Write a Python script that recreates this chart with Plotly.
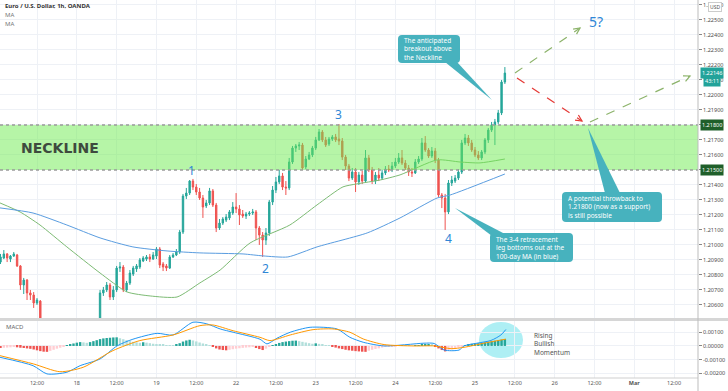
import math
import plotly.graph_objects as go

# ---------------- DATA ----------------
bar_index = list(range(1, 154))  # hourly bars, 0 = Feb 17 00:00 (weekend gap removed)

opens = [1.20886, 1.20913, 1.20940, 1.20906, 1.20926, 1.20933, 1.20860, 1.20733, 1.20766, 1.20680,
         1.20666, 1.20613, 1.20626, 1.20486, 1.20420, 1.20333, 1.20366, 1.20313, 1.20340, 1.20380,
         1.20353, 1.20393, 1.20373, 1.20406, 1.20386, 1.20413, 1.20393, 1.20426, 1.20406, 1.20433,
         1.20460, 1.20680, 1.20700, 1.20733, 1.20653, 1.20700, 1.20846, 1.20853, 1.20700, 1.20746,
         1.20806, 1.20840, 1.20853, 1.20893, 1.20906, 1.20920, 1.20906, 1.20926, 1.20973, 1.20873,
         1.20860, 1.20846, 1.20920, 1.20933, 1.20953, 1.21086, 1.21326, 1.21346, 1.21426, 1.21386,
         1.21353, 1.21313, 1.21260, 1.21280, 1.21360, 1.21266, 1.21113, 1.21146, 1.21166, 1.21180,
         1.21213, 1.21253, 1.21240, 1.21206, 1.21193, 1.21206, 1.21213, 1.21220, 1.21113, 1.21066,
         1.21033, 1.21080, 1.21286, 1.21366, 1.21420, 1.21460, 1.21386, 1.21380, 1.21553, 1.21646,
         1.21660, 1.21666, 1.21520, 1.21573, 1.21600, 1.21646, 1.21700, 1.21753, 1.21700, 1.21673,
         1.21706, 1.21720, 1.21706, 1.21693, 1.21586, 1.21526, 1.21446, 1.21486, 1.21420, 1.21466,
         1.21426, 1.21580, 1.21500, 1.21426, 1.21466, 1.21446, 1.21480, 1.21506, 1.21500, 1.21526,
         1.21553, 1.21580, 1.21546, 1.21513, 1.21486, 1.21480, 1.21553, 1.21573, 1.21680, 1.21633,
         1.21593, 1.21626, 1.21566, 1.21333, 1.21313, 1.21220, 1.21413, 1.21426, 1.21446, 1.21486,
         1.21680, 1.21713, 1.21680, 1.21633, 1.21600, 1.21580, 1.21620, 1.21700, 1.21766, 1.21800,
         1.21820, 1.21880, 1.22086]

highs = [1.20940, 1.20966, 1.20946, 1.20933, 1.20953, 1.20940, 1.20866, 1.20780, 1.20773, 1.20700,
         1.20686, 1.20646, 1.20633, 1.20513, 1.20433, 1.20393, 1.20380, 1.20366, 1.20400, 1.20406,
         1.20413, 1.20420, 1.20433, 1.20426, 1.20440, 1.20433, 1.20453, 1.20446, 1.20460, 1.20500,
         1.20700, 1.20720, 1.20753, 1.20746, 1.20726, 1.20860, 1.20886, 1.20866, 1.20760, 1.20833,
         1.20860, 1.20873, 1.20913, 1.20926, 1.20933, 1.20940, 1.20953, 1.20986, 1.20986, 1.20886,
         1.20873, 1.20933, 1.20946, 1.20973, 1.21100, 1.21340, 1.21380, 1.21433, 1.21440, 1.21406,
         1.21380, 1.21333, 1.21300, 1.21380, 1.21373, 1.21280, 1.21173, 1.21186, 1.21206, 1.21233,
         1.21286, 1.21346, 1.21266, 1.21233, 1.21220, 1.21226, 1.21240, 1.21233, 1.21126, 1.21086,
         1.21113, 1.21300, 1.21393, 1.21453, 1.21500, 1.21480, 1.21426, 1.21580, 1.21660, 1.21673,
         1.21686, 1.21680, 1.21593, 1.21620, 1.21660, 1.21720, 1.21773, 1.21766, 1.21720, 1.21720,
         1.21733, 1.21740, 1.21806, 1.21713, 1.21600, 1.21540, 1.21513, 1.21513, 1.21486, 1.21493,
         1.21633, 1.21600, 1.21520, 1.21486, 1.21513, 1.21500, 1.21526, 1.21533, 1.21553, 1.21580,
         1.21613, 1.21633, 1.21566, 1.21533, 1.21513, 1.21573, 1.21593, 1.21713, 1.21726, 1.21646,
         1.21653, 1.21646, 1.21580, 1.21346, 1.21340, 1.21433, 1.21460, 1.21466, 1.21506, 1.21700,
         1.21740, 1.21733, 1.21700, 1.21653, 1.21626, 1.21633, 1.21713, 1.21780, 1.21820, 1.21840,
         1.21900, 1.22100, 1.22186]

lows = [1.20873, 1.20906, 1.20886, 1.20886, 1.20920, 1.20853, 1.20700, 1.20673, 1.20633, 1.20633,
        1.20580, 1.20600, 1.20433, 1.20380, 1.20286, 1.20260, 1.20266, 1.20286, 1.20313, 1.20326,
        1.20333, 1.20346, 1.20353, 1.20366, 1.20366, 1.20373, 1.20380, 1.20386, 1.20393, 1.20420,
        1.20433, 1.20660, 1.20686, 1.20633, 1.20633, 1.20686, 1.20820, 1.20686, 1.20686, 1.20733,
        1.20793, 1.20820, 1.20840, 1.20886, 1.20893, 1.20886, 1.20900, 1.20906, 1.20846, 1.20826,
        1.20826, 1.20840, 1.20913, 1.20926, 1.20940, 1.21073, 1.21306, 1.21333, 1.21366, 1.21333,
        1.21300, 1.21180, 1.21246, 1.21266, 1.21253, 1.21086, 1.21100, 1.21133, 1.21153, 1.21166,
        1.21200, 1.21213, 1.21133, 1.21180, 1.21173, 1.21193, 1.21200, 1.21033, 1.21000, 1.20920,
        1.21000, 1.21060, 1.21266, 1.21346, 1.21406, 1.21366, 1.21333, 1.21366, 1.21540, 1.21620,
        1.21633, 1.21500, 1.21506, 1.21566, 1.21586, 1.21633, 1.21693, 1.21686, 1.21653, 1.21660,
        1.21693, 1.21686, 1.21666, 1.21566, 1.21500, 1.21426, 1.21433, 1.21353, 1.21400, 1.21406,
        1.21413, 1.21486, 1.21406, 1.21406, 1.21426, 1.21433, 1.21466, 1.21486, 1.21486, 1.21513,
        1.21540, 1.21533, 1.21500, 1.21460, 1.21453, 1.21473, 1.21540, 1.21560, 1.21620, 1.21580,
        1.21580, 1.21546, 1.21320, 1.21246, 1.21100, 1.21206, 1.21393, 1.21413, 1.21433, 1.21473,
        1.21666, 1.21660, 1.21620, 1.21586, 1.21566, 1.21566, 1.21606, 1.21680, 1.21753, 1.21666,
        1.21806, 1.21866, 1.22073]

closes = [1.20920, 1.20940, 1.20913, 1.20926, 1.20940, 1.20860, 1.20733, 1.20766, 1.20680, 1.20666,
          1.20613, 1.20633, 1.20486, 1.20420, 1.20333, 1.20366, 1.20313, 1.20340, 1.20380, 1.20353,
          1.20393, 1.20373, 1.20406, 1.20386, 1.20413, 1.20393, 1.20426, 1.20406, 1.20433, 1.20460,
          1.20680, 1.20700, 1.20733, 1.20653, 1.20700, 1.20846, 1.20853, 1.20700, 1.20746, 1.20813,
          1.20846, 1.20860, 1.20900, 1.20913, 1.20920, 1.20906, 1.20933, 1.20973, 1.20866, 1.20853,
          1.20846, 1.20920, 1.20933, 1.20953, 1.21086, 1.21326, 1.21346, 1.21426, 1.21386, 1.21353,
          1.21313, 1.21253, 1.21280, 1.21360, 1.21266, 1.21113, 1.21146, 1.21173, 1.21186, 1.21220,
          1.21253, 1.21240, 1.21200, 1.21193, 1.21206, 1.21213, 1.21220, 1.21113, 1.21066, 1.21033,
          1.21080, 1.21286, 1.21366, 1.21420, 1.21460, 1.21386, 1.21380, 1.21553, 1.21646, 1.21660,
          1.21666, 1.21513, 1.21573, 1.21600, 1.21646, 1.21700, 1.21753, 1.21700, 1.21666, 1.21706,
          1.21720, 1.21700, 1.21693, 1.21586, 1.21526, 1.21446, 1.21486, 1.21420, 1.21466, 1.21426,
          1.21580, 1.21500, 1.21426, 1.21466, 1.21446, 1.21480, 1.21506, 1.21500, 1.21526, 1.21553,
          1.21580, 1.21546, 1.21513, 1.21486, 1.21480, 1.21553, 1.21573, 1.21680, 1.21633, 1.21593,
          1.21626, 1.21566, 1.21333, 1.21313, 1.21220, 1.21413, 1.21433, 1.21446, 1.21486, 1.21680,
          1.21713, 1.21680, 1.21633, 1.21600, 1.21580, 1.21620, 1.21700, 1.21766, 1.21800, 1.21820,
          1.21880, 1.22086, 1.22146]

# moving averages (vertices)
ma50_x = [0.85, 6.9, 12.9, 21.0, 31.0, 39.1, 46.1, 54.2, 61.1, 67.2, 76.2, 88.2, 96.4, 104.2,
          108.4, 115.4, 121.4, 132.6, 139.5, 145.5, 153.0]
ma50_y = [1.21280, 1.21220, 1.21133, 1.20987, 1.20813, 1.20687, 1.20660, 1.20653, 1.20747, 1.20833,
          1.21013, 1.21133, 1.21267, 1.21387, 1.21407, 1.21433, 1.21467, 1.21567, 1.21553, 1.21547,
          1.21573]
ma100_x = [0.85, 10.8, 21.0, 31.0, 40.9, 51.2, 61.1, 74.1, 80.1, 87.6, 96.4, 111.5, 121.4, 132.6,
           136.5, 153.0]
ma100_y = [1.21247, 1.21213, 1.21133, 1.21047, 1.20987, 1.20960, 1.20947, 1.20940, 1.20927, 1.20920,
           1.20987, 1.21080, 1.21180, 1.21313, 1.21333, 1.21473]

# MACD histogram, one value per bar
hist = [-0.00015, -0.00013, -0.00012, -0.00010, -0.00008, -0.00010, -0.00013, -0.00015, -0.00018, -0.00021,
        -0.00026, -0.00032, -0.00038, -0.00042, -0.00043, -0.00036, -0.00028, -0.00020, -0.00013, -0.00006,
        0.00003, 0.00010, 0.00018, 0.00024, 0.00028, 0.00026, 0.00023, 0.00028, 0.00035, 0.00042,
        0.00050, 0.00055, 0.00058, 0.00060, 0.00062, 0.00063, 0.00056, 0.00049, 0.00042, 0.00035,
        0.00030, 0.00026, 0.00023, 0.00027, 0.00024, 0.00020, 0.00016, 0.00013, 0.00010, 0.00007,
        0.00005, 0.00003, 0.00002, 0.00008, 0.00020, 0.00032, 0.00040, 0.00045, 0.00040, 0.00033,
        0.00025, 0.00018, 0.00012, 0.00006, -0.00008, -0.00018, -0.00026, -0.00030, -0.00032, -0.00028,
        -0.00024, -0.00020, -0.00017, -0.00014, -0.00012, -0.00010, -0.00008, -0.00015, -0.00023, -0.00030,
        -0.00020, -0.00008, 0.00005, 0.00014, 0.00022, 0.00028, 0.00032, 0.00035, 0.00038, 0.00039,
        0.00035, 0.00030, 0.00025, 0.00020, 0.00016, 0.00019, 0.00015, 0.00010, 0.00006, 0.00002,
        -0.00005, -0.00012, -0.00018, -0.00023, -0.00028, -0.00032, -0.00035, -0.00038, -0.00040, -0.00042,
        -0.00043, -0.00035, -0.00028, -0.00022, -0.00018, -0.00012, -0.00008, -0.00005, -0.00003, -0.00001,
        0.00002, 0.00003, 0.00002, 0.00001, 0.00000, 0.00002, 0.00005, 0.00008, 0.00010, 0.00011,
        0.00009, -0.00005, -0.00018, -0.00030, -0.00040, -0.00032, -0.00025, -0.00018, -0.00012, -0.00006,
        0.00005, 0.00012, 0.00016, 0.00019, 0.00020, 0.00022, 0.00026, 0.00030, 0.00034, 0.00038,
        0.00042, 0.00046, 0.00050]

macd_x = [0.85, 10.8, 15.0, 21.0, 25.0, 31.0, 36.1, 40.9, 48.2, 53.0, 59.0, 63.2, 67.2, 71.1, 79.2,
          81.3, 84.3, 88.3, 94.3, 102.4, 106.3, 110.3, 116.6, 128.6, 131.7, 134.7, 139.2, 140.7,
          144.6, 148.8, 151.8, 153.3]
macd_y = [-0.00083, -0.00144, -0.00204, -0.00192, -0.00144, -0.00095, 0.00000, 0.00049, 0.00092,
          0.00080, 0.00173, 0.00161, 0.00124, 0.00100, 0.00049, 0.00015, 0.00056, 0.00100, 0.00136,
          0.00124, 0.00063, 0.00027, 0.00000, 0.00020, 0.00018, -0.00030, -0.00030, 0.00000, 0.00020,
          0.00040, 0.00080, 0.00120]
sig_x = [0.85, 10.9, 18.9, 25.9, 34.9, 43.0, 53.0, 61.1, 65.0, 71.1, 79.2, 82.2, 88.3, 95.2, 101.2,
         106.3, 110.3, 116.6, 125.6, 131.7, 136.8, 140.7, 146.7, 153.3]
sig_y = [-0.00071, -0.00131, -0.00188, -0.00156, -0.00034, 0.00039, 0.00080, 0.00148, 0.00153,
         0.00111, 0.00063, 0.00039, 0.00080, 0.00119, 0.00124, 0.00100, 0.00051, 0.00010, 0.00000,
         0.00000, -0.00020, -0.00010, 0.00020, 0.00050]

time_tick_pos = [12, 24, 36, 48, 60, 72, 84, 96, 108, 120, 132, 144, 156, 168, 180, 192, 204]
time_tick_text = ["12:00", "18", "12:00", "19", "12:00", "22", "12:00", "23", "12:00", "24",
                  "12:00", "25", "12:00", "26", "12:00", "<b>Mar</b>", "12:00"]
price_ticks = [1.206, 1.207, 1.208, 1.209, 1.210, 1.211, 1.212, 1.213, 1.214, 1.215, 1.216, 1.217,
               1.218, 1.219, 1.220, 1.221, 1.222, 1.223, 1.224, 1.225, 1.226]
macd_ticks = [-0.002, -0.001, 0.0, 0.001]
macd_tick_text = ["-0.00200", "-0.00100", "0.00000", "0.00100"]

neckline_top = 1.21800
neckline_bottom = 1.21500
last_price = 1.22146

# ---------------- GEOMETRY HELPERS (decorations only) ----------------
PW, PH = 698.0, 378.0  # plot area size in px


def P(x, y):
    return x / PW, (PH - y) / PH


def path_from(points, close=True):
    s = ""
    for k, (x, y) in enumerate(points):
        px, py = P(x, y)
        s += ("M" if k == 0 else "L") + f"{px:.5f},{py:.5f} "
    return s + ("Z" if close else "")


def rounded_rect(x0, y0, x1, y1, r=4):
    def p(x, y):
        a, b = P(x, y)
        return f"{a:.5f},{b:.5f}"
    return (f"M{p(x0 + r, y0)} L{p(x1 - r, y0)} Q{p(x1, y0)} {p(x1, y0 + r)} "
            f"L{p(x1, y1 - r)} Q{p(x1, y1)} {p(x1 - r, y1)} L{p(x0 + r, y1)} "
            f"Q{p(x0, y1)} {p(x0, y1 - r)} L{p(x0, y0 + r)} Q{p(x0, y0)} {p(x0 + r, y0)} Z")


# ---------------- FIGURE ----------------
fig = go.Figure()

fig.add_trace(go.Candlestick(
    x=bar_index, open=opens, high=highs, low=lows, close=closes,
    increasing=dict(line=dict(color="#26a69a", width=1), fillcolor="#26a69a"),
    decreasing=dict(line=dict(color="#ef5350", width=1), fillcolor="#ef5350"),
    whiskerwidth=0, xaxis="x", yaxis="y", hoverinfo="skip", showlegend=False))

fig.add_trace(go.Scatter(x=ma50_x, y=ma50_y, mode="lines", xaxis="x", yaxis="y",
                         line=dict(color="#7dbb74", width=1, shape="spline", smoothing=0.6),
                         hoverinfo="skip", showlegend=False))
fig.add_trace(go.Scatter(x=ma100_x, y=ma100_y, mode="lines", xaxis="x", yaxis="y",
                         line=dict(color="#5a9de0", width=1, shape="spline", smoothing=0.6),
                         hoverinfo="skip", showlegend=False))

hist_colors = []
prev = 0.0
for h in hist:
    if h >= 0:
        hist_colors.append("#26a69a" if h >= prev else "#b2dfdb")
    else:
        hist_colors.append("#ef5350" if h < prev else "#ffcdd2")
    prev = h

fig.add_trace(go.Bar(x=bar_index, y=hist, marker=dict(color=hist_colors, line=dict(width=0)),
                     width=0.72, xaxis="x2", yaxis="y2", hoverinfo="skip", showlegend=False))
fig.add_trace(go.Scatter(x=macd_x, y=macd_y, mode="lines", xaxis="x2", yaxis="y2",
                         line=dict(color="#2196f3", width=1, shape="spline", smoothing=0.7),
                         hoverinfo="skip", showlegend=False))
fig.add_trace(go.Scatter(x=sig_x, y=sig_y, mode="lines", xaxis="x2", yaxis="y2",
                         line=dict(color="#ff9800", width=1, shape="spline", smoothing=0.7),
                         hoverinfo="skip", showlegend=False))

grid = "#eef1f6"
xr = [0.85, 211.2]
main_bottom = (PH - 318) / PH
macd_top = (PH - 321) / PH
AXF = 5.5

fig.update_layout(
    width=728, height=391,
    margin=dict(l=0, r=30, t=0, b=13),
    paper_bgcolor="white", plot_bgcolor="white",
    font=dict(family="Noto Sans, DejaVu Sans, sans-serif", size=6, color="#4a4a4a"),
    showlegend=False, hovermode=False, bargap=0.3, boxgap=0.4,
    xaxis=dict(domain=[0, 1], range=xr, anchor="y", showticklabels=False,
               tickvals=time_tick_pos, showgrid=True, gridcolor=grid, zeroline=False,
               rangeslider=dict(visible=False), fixedrange=True),
    xaxis2=dict(domain=[0, 1], range=xr, anchor="y2", matches="x",
                tickvals=time_tick_pos, ticktext=time_tick_text, showgrid=True, gridcolor=grid,
                zeroline=False, ticks="", tickfont=dict(size=AXF, color="#555555")),
    yaxis=dict(domain=[main_bottom, 1], range=[1.20513, 1.22633], side="right", anchor="x",
               tickvals=price_ticks, tickformat=".5f", showgrid=True, gridcolor=grid,
               zeroline=False, ticks="outside", ticklen=3, tickcolor="#888888",
               tickfont=dict(size=AXF, color="#4a4a4a")),
    yaxis2=dict(domain=[0, macd_top], range=[-0.00234, 0.00182], side="right", anchor="x2",
                tickvals=macd_ticks, ticktext=macd_tick_text, showgrid=True, gridcolor=grid,
                zeroline=False, ticks="outside", ticklen=3, tickcolor="#888888",
                tickfont=dict(size=AXF, color="#4a4a4a")),
)

shapes = []
# neckline zone (drawn over candles, translucent)
shapes.append(dict(type="rect", xref="paper", yref="y", x0=0, x1=1,
                   y0=neckline_bottom, y1=neckline_top, fillcolor="rgba(110,235,80,0.5)",
                   line=dict(width=0), layer="above"))
for lv in (neckline_top, neckline_bottom):
    shapes.append(dict(type="line", xref="paper", yref="y", x0=0, x1=1, y0=lv, y1=lv,
                       line=dict(color="#9a9a9a", width=1.5, dash="dot"), layer="above"))
# pane separators and axis line
shapes.append(dict(type="line", xref="paper", yref="paper", x0=0, x1=728 / PW,
                   y0=P(0, 319.5)[1], y1=P(0, 319.5)[1], line=dict(color="#d6d6d6", width=3)))
shapes.append(dict(type="line", xref="paper", yref="paper", x0=0, x1=1,
                   y0=0, y1=0, line=dict(color="#cfcfcf", width=1)))
shapes.append(dict(type="line", xref="paper", yref="paper", x0=1, x1=1,
                   y0=P(0, 391)[1], y1=1, line=dict(color="#bdbdbd", width=1)))
# MACD ellipse
ex0, ey0 = P(479, 322)
ex1, ey1 = P(523, 358)
shapes.append(dict(type="circle", xref="paper", yref="paper", x0=ex0, x1=ex1, y0=ey1, y1=ey0,
                   fillcolor="rgba(120,228,236,0.6)", line=dict(width=0), layer="below"))

# callouts
callout = "#47b2be"
boxes = [
    ((398, 35, 460, 63), [(445, 62), (457, 62), (492, 100)]),
    ((490, 233, 573, 262), [(492, 236), (505, 234), (455, 208)]),
    ((562, 192, 662, 222), [(605, 193), (620, 193), (588, 128)]),
]
for (bx0, by0, bx1, by1), tri in boxes:
    shapes.append(dict(type="path", xref="paper", yref="paper", path=rounded_rect(bx0, by0, bx1, by1),
                       fillcolor=callout, line=dict(width=0), layer="above"))
    shapes.append(dict(type="path", xref="paper", yref="paper", path=path_from(tri),
                       fillcolor=callout, line=dict(width=0), layer="above"))


def dashed_arrow(x0, y0, x1, y1, color):
    a0 = P(x0, y0)
    a1 = P(x1, y1)
    shapes.append(dict(type="line", xref="paper", yref="paper", x0=a0[0], y0=a0[1], x1=a1[0], y1=a1[1],
                       line=dict(color=color, width=1.2, dash="dash"), layer="above"))
    ang = math.atan2(y1 - y0, x1 - x0)
    L = 7
    pts = []
    for s in (-1, 1):
        a = ang + math.pi + s * 0.45
        pts.append((x1 + L * math.cos(a), y1 + L * math.sin(a)))
    shapes.append(dict(type="path", xref="paper", yref="paper",
                       path=path_from([pts[0], (x1, y1), pts[1]], close=False),
                       line=dict(color=color, width=1.2), layer="above"))


dashed_arrow(515, 73, 580, 28, "#8cb36a")
dashed_arrow(517, 78, 582, 121, "#e53935")
dashed_arrow(590, 122, 690, 76, "#8cb36a")

fig.update_layout(shapes=shapes)

ann = []


def text(x, y, s, size=6, color="#4a4a4a", xanchor="left", yanchor="middle", align="left", family=None):
    px, py = P(x, y)
    f = dict(size=size, color=color)
    if family:
        f["family"] = family
    ann.append(dict(xref="paper", yref="paper", x=px, y=py, text=s, showarrow=False,
                    xanchor=xanchor, yanchor=yanchor, align=align, font=f))


text(3, 6, "<b>Euro / U.S. Dollar, 1h, OANDA</b>", size=6, color="#333333")
text(3, 15, "MA", size=6, color="#777777")
text(3, 24, "MA", size=6, color="#777777")
text(19, 148, "<b>NECKLINE</b>", size=14, color="#3e4a3e", family="DejaVu Sans")
text(4, 327, "MACD", size=6, color="#666666")
text(532, 344, "Rising<br>Bullish<br>Momentum", size=6.5, color="#555555")

num_color = "#2f86d6"
text(191, 171, "1", size=12, color=num_color, xanchor="center")
text(265, 268, "2", size=12, color=num_color, xanchor="center")
text(338, 115, "3", size=12, color=num_color, xanchor="center")
text(448, 238, "4", size=12, color=num_color, xanchor="center")
text(596, 21, "5?", size=14, color=num_color, xanchor="center")

text(402, 49, "The anticipated<br>breakout above<br>the Neckline", size=6.5, color="white")
text(494, 247.5, "The 3-4 retracement<br>leg bottoms out at the<br>100-day MA (in blue)", size=6.5, color="white")
text(566, 207, "A potential throwback to<br>1.21800 (now as a support)<br>is still possible", size=6.5, color="white")

# right-hand price tags
for lv in (neckline_top, neckline_bottom):
    ann.append(dict(xref="paper", yref="y", x=1.003, y=lv, text=f"{lv:.5f}", showarrow=False,
                    xanchor="left", yanchor="middle", bgcolor="#1f5f2a", borderpad=1,
                    font=dict(size=AXF, color="white")))
ann.append(dict(xref="paper", yref="y", x=1.003, y=last_price, text=f"{last_price:.5f}", showarrow=False,
                xanchor="left", yanchor="middle", bgcolor="#22a39a", borderpad=1,
                font=dict(size=AXF, color="white")))
tx, ty = P(703, 81)
ann.append(dict(xref="paper", yref="paper", x=tx, y=ty, text="43:11", showarrow=False,
                xanchor="left", yanchor="middle", bgcolor="#22a39a", borderpad=1,
                font=dict(size=AXF, color="white")))
ux, uy = P(715, 7)
ann.append(dict(xref="paper", yref="paper", x=ux, y=uy, text="USD", showarrow=False,
                xanchor="center", yanchor="middle", bgcolor="white", bordercolor="#cccccc",
                borderwidth=1, borderpad=1, font=dict(size=5, color="#555555")))

fig.update_layout(annotations=ann)

fig.write_html("out.html", config={"displayModeBar": False},
               post_script="document.body.style.margin='0';document.body.style.overflow='hidden';")
